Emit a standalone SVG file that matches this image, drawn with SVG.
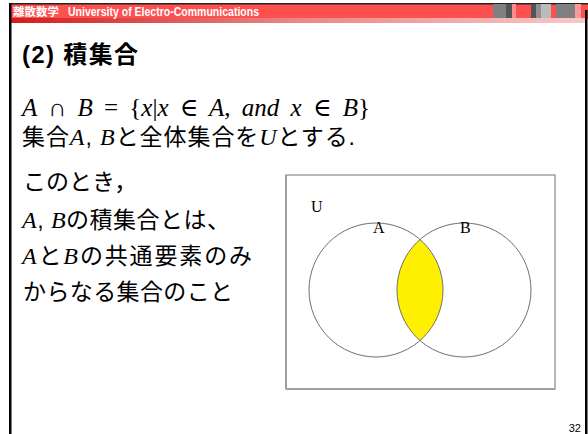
<svg xmlns="http://www.w3.org/2000/svg" width="588" height="434" viewBox="0 0 588 434">
<defs>
<linearGradient id="strip" x1="0" y1="0" x2="1" y2="0">
<stop offset="0" stop-color="#d41c1c"/>
<stop offset="0.5" stop-color="#e88888"/>
<stop offset="1" stop-color="#f8c8c8"/>
</linearGradient>
<style>
.jp{font-family:"Liberation Sans","Noto Sans CJK JP",sans-serif;font-size:23px;fill:#000}
.m{font-family:"Liberation Serif","DejaVu Serif",serif;font-style:italic;font-size:24px}
.mt{font-family:"Liberation Serif","DejaVu Serif",serif;font-style:italic;font-size:25px;fill:#000;word-spacing:5px}
.up{font-style:normal}
.lbl{font-family:"Liberation Serif",serif;font-size:16px;fill:#000}
.circ{fill:none;stroke:#707070;stroke-width:1}
</style>
</defs>
<rect width="588" height="434" fill="#fff"/>
<g id="header">
<rect x="10" y="3" width="578" height="16" fill="#ff5050"/>
<rect x="10" y="18" width="576" height="5" fill="url(#strip)"/>
<rect x="10" y="3" width="578" height="1.5" fill="#222"/>
<rect x="493" y="4" width="13" height="14" fill="#808080"/>
<rect x="506" y="4" width="6" height="14" fill="#555"/>
<rect x="512" y="4" width="4" height="14" fill="#ff8c8c"/>
<rect x="531" y="4" width="5" height="14" fill="#555"/>
<rect x="536" y="4" width="5" height="14" fill="#909090"/>
<rect x="541" y="4" width="10" height="14" fill="#bbbbbb"/>
<rect x="556" y="4" width="19" height="14" fill="#808080"/>
<rect x="575" y="4" width="6" height="14" fill="#ff9a9a"/>
<text x="13" y="16" font-family="Liberation Sans,'Noto Sans CJK JP',sans-serif" font-size="11.5" font-weight="bold" fill="#fff" textLength="46" lengthAdjust="spacing">離散数学</text>
<text x="68" y="16" font-family="Liberation Sans,sans-serif" font-size="12" font-weight="bold" fill="#fff" textLength="191" lengthAdjust="spacingAndGlyphs">University of Electro-Communications</text>
</g>
<rect x="9" y="3" width="2.5" height="431" fill="#000"/>
<rect x="585" y="10" width="2.5" height="424" fill="#000"/>
<g id="title">
<text x="22" y="63" font-family="Liberation Sans,'Noto Sans CJK JP',sans-serif" font-size="24" font-weight="bold" fill="#000" textLength="116" lengthAdjust="spacing">(2) 積集合</text>
</g>
<g id="body">
<text class="mt" x="22" y="116">A <tspan class="up">∩</tspan> B <tspan class="up">=</tspan> <tspan class="up">{</tspan>x<tspan class="up">|</tspan>x <tspan class="up">∈</tspan> A<tspan class="up">,</tspan> and x <tspan class="up">∈</tspan> B<tspan class="up">}</tspan></text>
<text class="jp" x="22" y="145" textLength="333" lengthAdjust="spacing">集合<tspan class="m">A</tspan>, <tspan class="m">B</tspan>と全体集合を<tspan class="m">U</tspan>とする.</text>
<text class="jp" x="23" y="190">このとき，</text>
<text class="jp" x="22" y="228" textLength="208" lengthAdjust="spacing"><tspan class="m">A</tspan>, <tspan class="m">B</tspan>の積集合とは、</text>
<text class="jp" x="22" y="264" textLength="230" lengthAdjust="spacing"><tspan class="m">A</tspan>と<tspan class="m">B</tspan>の共通要素のみ</text>
<text class="jp" x="23" y="300" textLength="210" lengthAdjust="spacing">からなる集合のこと</text>
</g>
<g id="venn">
<rect x="286" y="175" width="269" height="214" fill="#fff" stroke="#707070" stroke-width="1"/>
<line x1="286" y1="175" x2="286" y2="389" stroke="#a0a0a0" stroke-width="2"/>
<line x1="286" y1="389" x2="555" y2="389" stroke="#a0a0a0" stroke-width="2"/>
<path d="M420,239.5 A67,67 0 0,0 420,340.5 A67,67 0 0,0 420,239.5 Z" fill="#ffef00"/>
<circle class="circ" cx="376" cy="290" r="67"/>
<circle class="circ" cx="464" cy="290" r="67"/>
<text class="lbl" x="311" y="212">U</text>
<text class="lbl" x="373" y="233">A</text>
<text class="lbl" x="460" y="233">B</text>
</g>
<text x="581" y="432" font-family="Liberation Sans,sans-serif" font-size="11" fill="#000" text-anchor="end">32</text>
</svg>
